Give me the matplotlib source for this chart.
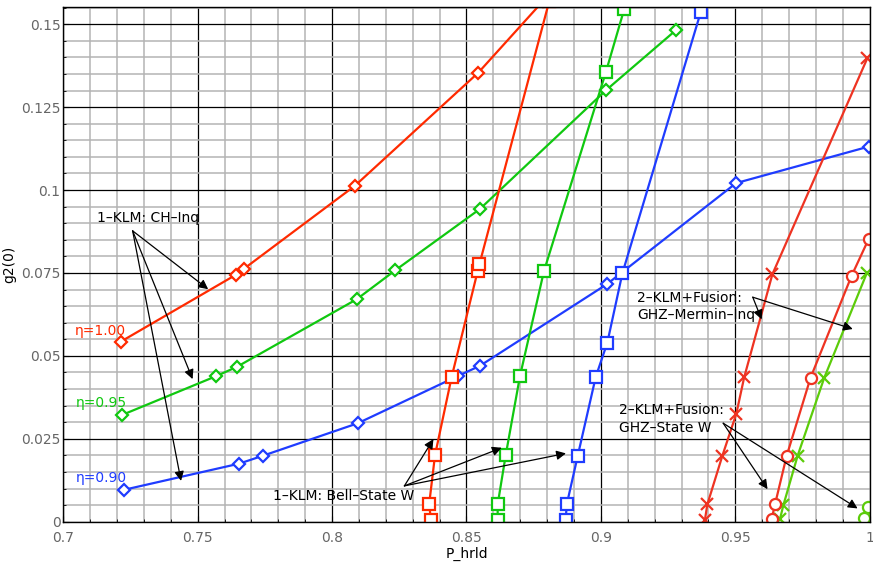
import matplotlib
matplotlib.use("Agg")
import matplotlib.pyplot as plt
from matplotlib.ticker import MultipleLocator, FixedLocator, FixedFormatter

# 1-KLM, CH inequality (diamonds), one curve per efficiency
chi_eta100_x = [0.7214, 0.7641, 0.7671, 0.8085, 0.8544, 0.8785]
chi_eta100_y = [0.0543, 0.0744, 0.0762, 0.1013, 0.1354, 0.1570]
chi_eta095_x = [0.7219, 0.7569, 0.7646, 0.8092, 0.8235, 0.8550, 0.9019, 0.9279]
chi_eta095_y = [0.0322, 0.0439, 0.0467, 0.0671, 0.0758, 0.0943, 0.1301, 0.1482]
chi_eta090_x = [0.7225, 0.7654, 0.7743, 0.8096, 0.8467, 0.8550, 0.9022, 0.9503, 0.9996]
chi_eta090_y = [0.0096, 0.0175, 0.0199, 0.0297, 0.0439, 0.0470, 0.0716, 0.1021, 0.1131]

# 1-KLM, Bell-state W (squares)
bell_eta100_x = [0.8368, 0.8361, 0.8383, 0.8445, 0.8542, 0.8548, 0.8808]
bell_eta100_y = [0.0005, 0.0052, 0.0201, 0.0437, 0.0757, 0.0776, 0.1570]
bell_eta095_x = [0.8616, 0.8616, 0.8646, 0.8699, 0.8788, 0.9019, 0.9087]
bell_eta095_y = [0.0005, 0.0052, 0.0201, 0.0439, 0.0755, 0.1357, 0.1546]
bell_eta090_x = [0.8869, 0.8873, 0.8914, 0.8981, 0.9024, 0.9080, 0.9372]
bell_eta090_y = [0.0005, 0.0052, 0.0199, 0.0437, 0.0540, 0.0749, 0.1538]

# 2-KLM+Fusion, GHZ Mermin inequality (crosses)
ghzm_a_x = [0.9387, 0.9396, 0.9452, 0.9504, 0.9533, 0.9638, 0.9991]
ghzm_a_y = [0.0005, 0.0052, 0.0199, 0.0326, 0.0435, 0.0746, 0.1397]
ghzm_b_x = [0.9666, 0.9679, 0.9732, 0.9831, 0.9989]
ghzm_b_y = [0.0007, 0.0050, 0.0199, 0.0434, 0.0749]

# 2-KLM+Fusion, GHZ state W (circles)
ghzw_a_x = [0.9635, 0.9648, 0.9691, 0.9780, 0.9933, 0.9996]
ghzw_a_y = [0.0007, 0.0053, 0.0198, 0.0434, 0.0742, 0.0852]
ghzw_b_x = [0.9977, 0.9995]
ghzw_b_y = [0.0012, 0.0045]

x_ticks = [0.7, 0.75, 0.8, 0.85, 0.9, 0.95, 1.0]
x_tick_labels = ["0.7", "0.75", "0.8", "0.85", "0.9", "0.95", "1"]
y_ticks = [0, 0.025, 0.05, 0.075, 0.1, 0.125, 0.15]
y_tick_labels = ["0", "0.025", "0.05", "0.075", "0.1", "0.125", "0.15"]

RED = "#ff2a00"
GREEN = "#10c810"
BLUE = "#1f3cff"
LIME = "#5ccc0a"
RED2 = "#ee3322"

fig = plt.figure(figsize=(8.73, 5.64), dpi=100)
ax = fig.add_axes([0.0725, 0.075, 0.9237, 0.912])

ax.xaxis.set_major_locator(FixedLocator(x_ticks))
ax.xaxis.set_major_formatter(FixedFormatter(x_tick_labels))
ax.yaxis.set_major_locator(FixedLocator(y_ticks))
ax.yaxis.set_major_formatter(FixedFormatter(y_tick_labels))
ax.xaxis.set_minor_locator(MultipleLocator(0.01))
ax.yaxis.set_minor_locator(MultipleLocator(0.005))
ax.grid(which="minor", color="#b4b4b4", lw=1.1)
ax.grid(which="major", color="black", lw=0.9)
ax.set_axisbelow(True)

lw = 1.6
mk = dict(markerfacecolor="white", markeredgewidth=1.6)
for xs, ys, c in [(chi_eta100_x, chi_eta100_y, RED), (chi_eta095_x, chi_eta095_y, GREEN),
                  (chi_eta090_x, chi_eta090_y, BLUE)]:
    ax.plot(xs, ys, color=c, lw=lw, marker="D", markersize=6, markeredgecolor=c, **mk)
for xs, ys, c in [(bell_eta100_x, bell_eta100_y, RED), (bell_eta095_x, bell_eta095_y, GREEN),
                  (bell_eta090_x, bell_eta090_y, BLUE)]:
    ax.plot(xs, ys, color=c, lw=lw, marker="s", markersize=8, markeredgecolor=c, **mk)
ax.plot(ghzm_a_x, ghzm_a_y, color=RED2, lw=lw, marker="x", markersize=8, markeredgewidth=1.6)
ax.plot(ghzm_b_x, ghzm_b_y, color=LIME, lw=lw, marker="x", markersize=8, markeredgewidth=1.6)
ax.plot(ghzw_a_x, ghzw_a_y, color=RED2, lw=lw, marker="o", markersize=8, markeredgecolor=RED2, **mk)
ax.plot(ghzw_b_x, ghzw_b_y, color=LIME, lw=lw, marker="o", markersize=8, markeredgecolor=LIME, **mk)

ax.set_xlim(0.7, 1.0)
ax.set_ylim(0, 0.1551)
ax.tick_params(which="both", direction="in", labelsize=10, labelcolor="#666666", length=4)
ax.tick_params(which="minor", length=2)
ax.tick_params(axis="x", pad=7)
ax.tick_params(axis="y", pad=2)
for s in ax.spines.values():
    s.set_linewidth(1.0)
ax.set_xlabel("P_hrld", fontsize=10, labelpad=1)
ax.set_ylabel("g2(0)", fontsize=10)
ax.yaxis.set_label_coords(-0.058, 0.5)

# efficiency labels
ax.text(0.7041, 0.0576, "η=1.00", color=RED, fontsize=10, va="center")
ax.text(0.7046, 0.0359, "η=0.95", color=GREEN, fontsize=10, va="center")
ax.text(0.7048, 0.0131, "η=0.90", color=BLUE, fontsize=10, va="center")

arrow = dict(arrowstyle="-|>", color="black", lw=0.9, mutation_scale=14, shrinkA=0, shrinkB=0)

def callout(label, text_xy, origin, tips):
    ax.text(*text_xy, label, fontsize=10, va="center", ha="left", linespacing=1.3)
    for tip in tips:
        ax.annotate("", xy=tip, xytext=origin, arrowprops=arrow)

callout("1–KLM: CH–Inq", (0.7126, 0.0915), (0.7258, 0.0877),
        [(0.7539, 0.0701), (0.7481, 0.0430), (0.7438, 0.0123)])
callout("1–KLM: Bell–State W", (0.7780, 0.0077), (0.8269, 0.0108),
        [(0.8377, 0.0249), (0.8631, 0.0223), (0.8870, 0.0206)])
callout("2–KLM+Fusion:\nGHZ–Mermin–Inq", (0.9136, 0.0648), (0.9565, 0.0677),
        [(0.9598, 0.0610), (0.9937, 0.0581)])
callout("2–KLM+Fusion:\nGHZ–State W", (0.9069, 0.0310), (0.9455, 0.0297),
        [(0.9620, 0.0098), (0.9955, 0.0040)])

fig.savefig("out.png", dpi=100)
